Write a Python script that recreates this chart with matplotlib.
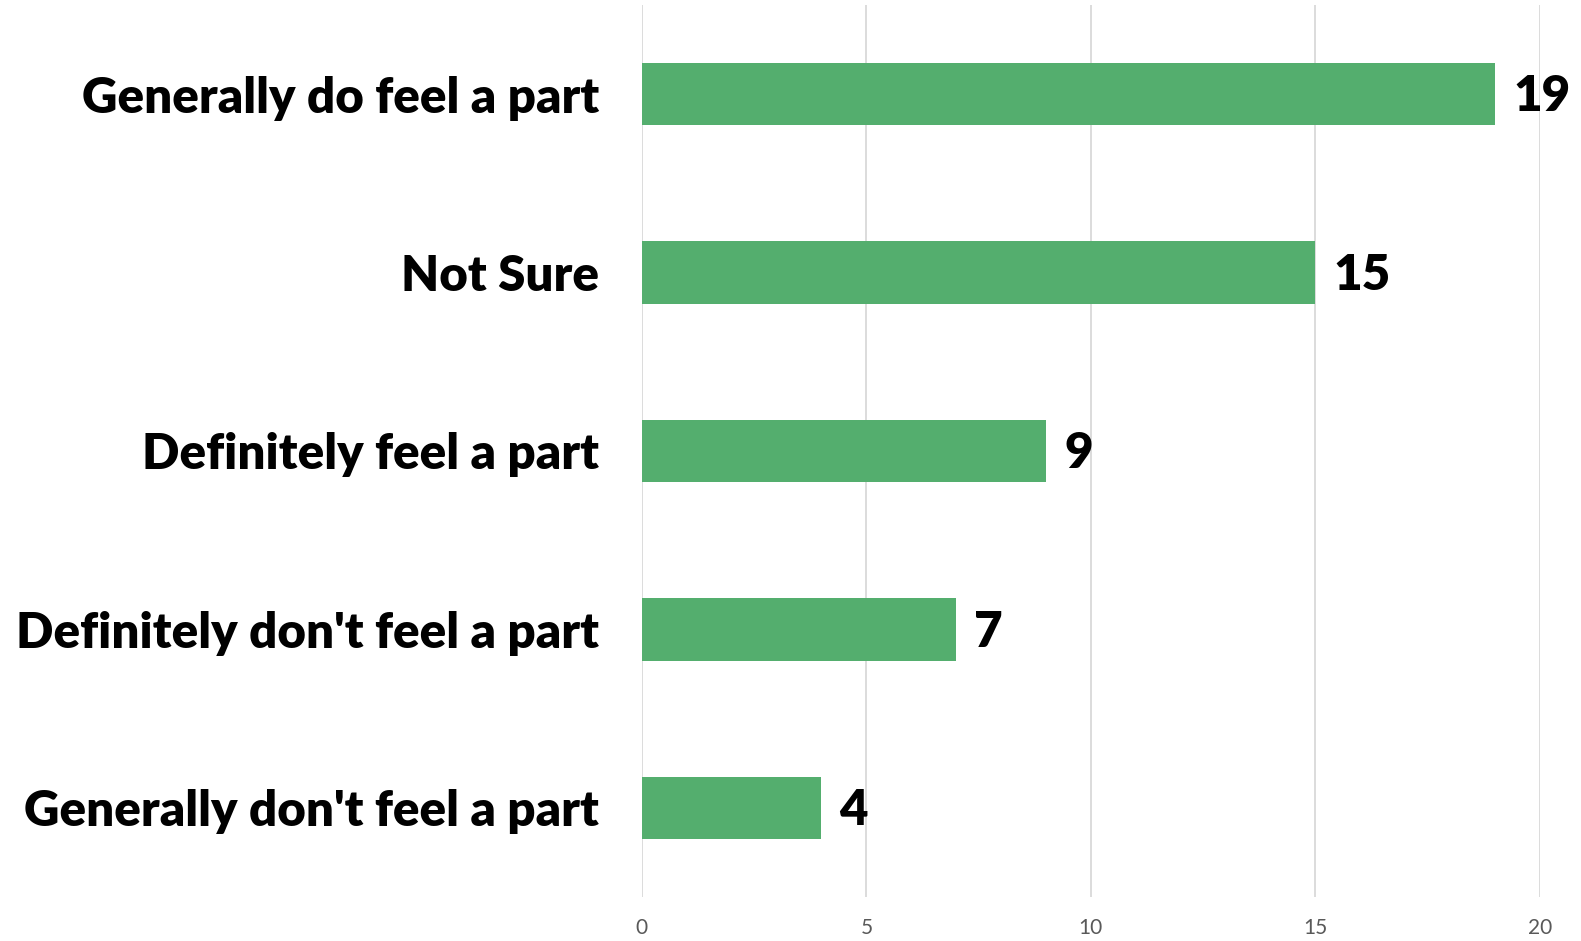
import matplotlib
matplotlib.use("Agg")
import matplotlib.pyplot as plt

categories = [
    "Generally do feel a part",
    "Not Sure",
    "Definitely feel a part",
    "Definitely don't feel a part",
    "Generally don't feel a part",
]
counts = [19, 15, 9, 7, 4]
x_ticks = [0, 5, 10, 15, 20]

BAR_COLOR = "#54ae6e"
GRID_COLOR = "#d9d9d9"

fig = plt.figure(figsize=(15.81, 9.41), dpi=100)
ax = fig.add_axes([0.406, 0.0468, 0.568, 0.948])

ypos = list(range(len(categories)))
ax.barh(ypos, counts, height=0.35, color=BAR_COLOR, zorder=2)

ax.set_ylim(len(categories) - 0.5, -0.5)
ax.set_xlim(0, 20)
ax.set_xticks(x_ticks)
ax.set_xticklabels([str(t) for t in x_ticks], family="Lato", fontweight="normal",
                   fontsize=15, color="#595959")
ax.tick_params(axis="x", length=0, pad=15)
ax.set_yticks(ypos)
ax.set_yticklabels(categories, family="Lato", fontweight="heavy", fontsize=35.5,
                   color="black")
ax.tick_params(axis="y", length=0, pad=31)

ax.grid(axis="x", color=GRID_COLOR, linewidth=1.3, zorder=0)
for side in ["top", "right", "bottom", "left"]:
    ax.spines[side].set_visible(False)

for y, v in zip(ypos, counts):
    ax.annotate(str(v), xy=(v, y), xytext=(13, -2), textcoords="offset points",
                ha="left", va="center", family="Lato", fontweight="heavy",
                fontsize=35.5, color="black")

fig.savefig("out.png", dpi=100)
